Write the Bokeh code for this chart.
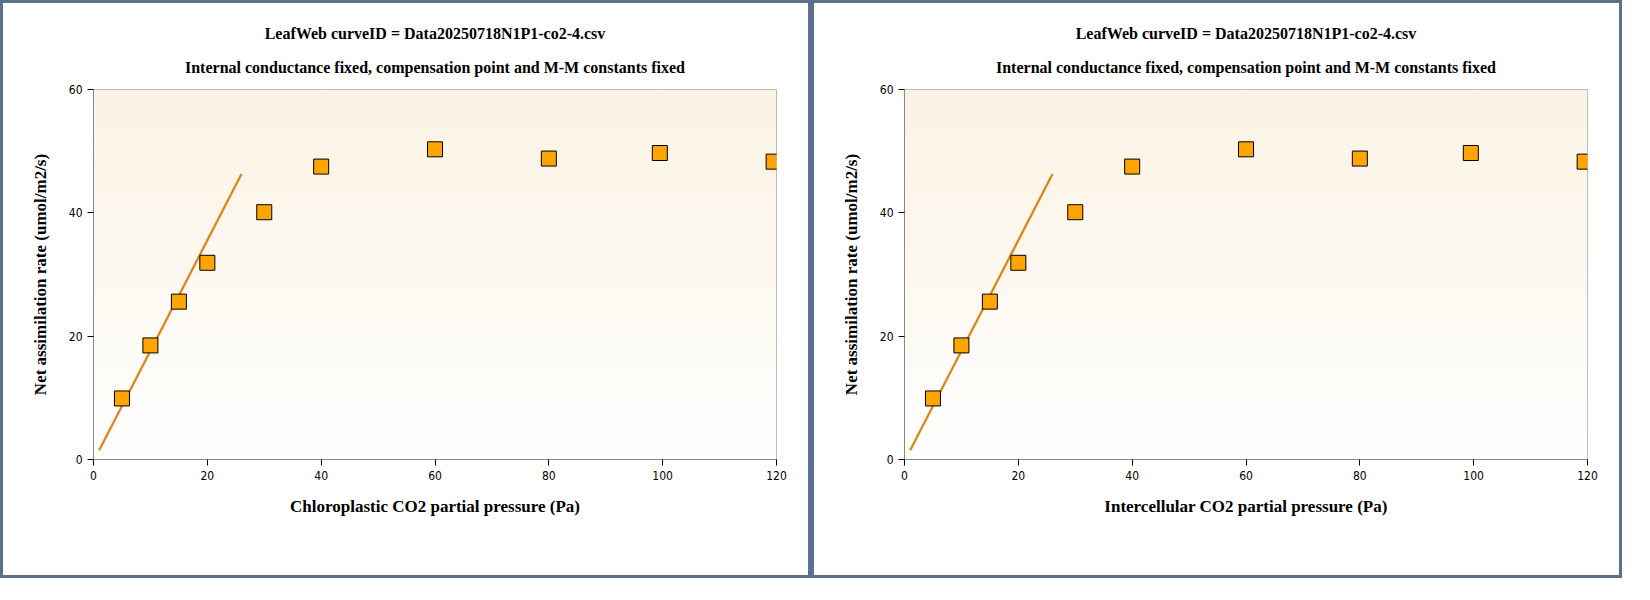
import numpy as np
from bokeh.plotting import figure
from bokeh.models import Title, Legend, LegendItem, Range1d, FixedTicker
from bokeh.layouts import row
from bokeh.embed import file_html
from bokeh.resources import INLINE

ci = [5, 10, 15, 20, 30, 40, 60, 80, 99.5, 119.5]
anet = [9.9, 18.5, 25.6, 31.9, 40.1, 47.5, 50.3, 48.8, 49.7, 48.3]
fit_x = [1, 26]
fit_y = [1.5, 46.3]
xlabels = ["Chloroplastic CO2 partial pressure (Pa)", "Intercellular CO2 partial pressure (Pa)"]
title1 = "LeafWeb curveID = Data20250718N1P1-co2-4.csv"
title2 = "Internal conductance fixed, compensation point and M-M constants fixed"

def make(xl):
    p = figure(width=811, height=578, output_backend="svg", toolbar_location=None,
               x_range=Range1d(0, 120), y_range=Range1d(0, 60),
               min_border_left=90, min_border_right=38, min_border_top=86, min_border_bottom=122,
               styles={"border": "3px solid #5b6f8f"})
    p.outline_line_color = "#aaaaaa"
    p.title.text = ""
    p.add_layout(Title(text=title2, align="center", text_font="Liberation Serif",
                       text_font_size="16px", text_font_style="bold", text_color="#000000",
                       standoff=28), "above")
    p.add_layout(Title(text=title1, align="center", text_font="Liberation Serif",
                       text_font_size="16px", text_font_style="bold", text_color="#000000",
                       standoff=2), "above")
    g = np.linspace(0, 1, 200)
    top = np.array([251, 243, 228]); bot = np.array([255, 255, 255])
    rgba = np.zeros((200, 1), dtype=np.uint32)
    view = rgba.view(dtype=np.uint8).reshape((200, 1, 4))
    for k in range(3):
        view[:, 0, k] = (bot[k] + (top[k] - bot[k]) * g).astype(np.uint8)
    view[:, 0, 3] = 255
    p.image_rgba(image=[rgba], x=0, y=0, dw=120, dh=60)
    p.xgrid.grid_line_color = "#cccccc"; p.ygrid.grid_line_color = "#cccccc"
    p.xaxis.ticker = FixedTicker(ticks=[0, 20, 40, 60, 80, 100, 120])
    p.yaxis.ticker = FixedTicker(ticks=[0, 20, 40, 60])
    for ax in (p.xaxis, p.yaxis):
        ax.major_label_text_font = "DejaVu Sans Condensed"
        ax.major_label_text_font_size = "12px"
        ax.major_label_text_color = "#000000"
        ax.axis_line_color = "#888888"
        ax.major_tick_line_color = "#000000"
        ax.major_tick_in = 0; ax.major_tick_out = 6
        ax.minor_tick_line_color = None
        ax.axis_label_text_font = "Liberation Serif"
        ax.axis_label_text_font_size = "17px"
        ax.axis_label_text_font_style = "bold"
        ax.axis_label_text_color = "#000000"
    p.xaxis.axis_label = xl
    p.yaxis.axis_label = "Net assimilation rate (umol/m2/s)"
    p.xaxis.axis_label_standoff = 14
    p.yaxis.axis_label_standoff = 16
    p.line(fit_x, fit_y, line_color="#e8962a", line_width=2.5)
    p.line(fit_x, fit_y, line_color="#b8752a", line_width=0.7)
    r1 = p.scatter([], [], marker="diamond", size=13, fill_color="#e0101c", line_color="#e0101c")
    r2 = p.scatter([], [], marker="circle", size=13, fill_color="#0a14f0", line_color="#0a14f0")
    r3 = p.scatter(ci, anet, marker="square", size=15, fill_color="#ffa500", line_color="#000000")
    leg = Legend(items=[LegendItem(label="Rubisco-limited", renderers=[r1]),
                        LegendItem(label="RuBP regeneration-limited", renderers=[r2]),
                        LegendItem(label="TPU-limited", renderers=[r3])],
                 orientation="horizontal", location=(-62, -112), border_line_color=None,
                 background_fill_alpha=0, label_text_font="DejaVu Sans Condensed",
                 label_text_font_size="16px", spacing=36, glyph_width=20, label_standoff=14,
                 margin=0, padding=6)
    p.add_layout(leg, "center")
    return p

pr = row(make(xlabels[0]), make(xlabels[1]), spacing=0)
open("out.html", "w").write(file_html(pr, INLINE))
